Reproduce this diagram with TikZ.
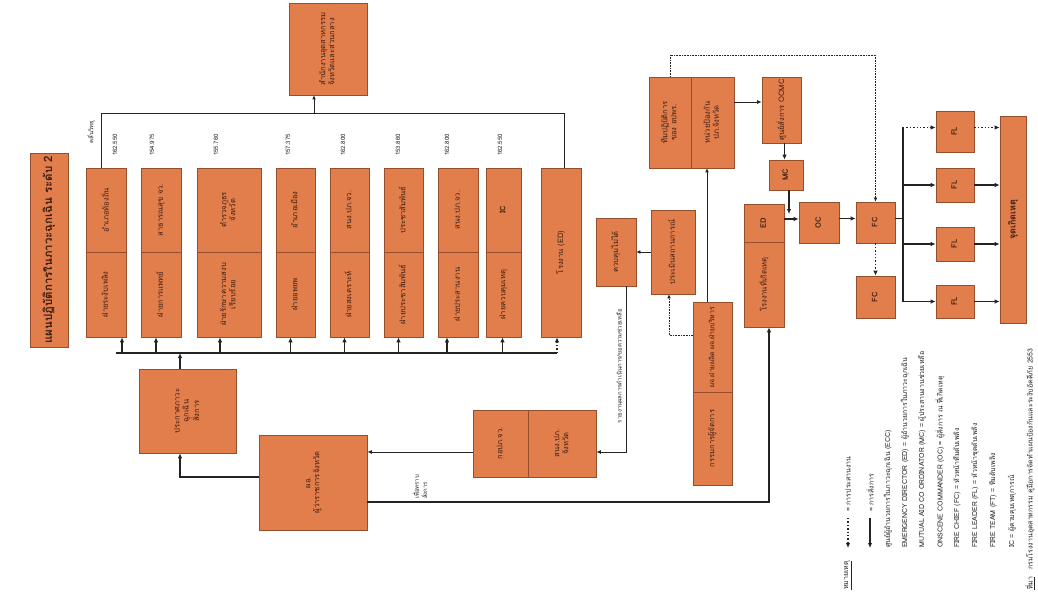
\documentclass[tikz,border=0pt]{standalone}
\usepackage{fontspec}
\setmainfont{Loma}[Script=Thai]
\usetikzlibrary{arrows.meta,calc}
\definecolor{boxor}{RGB}{226,126,76}
\definecolor{boxdr}{RGB}{150,78,45}
\definecolor{txtc}{RGB}{60,30,20}
\definecolor{linec}{RGB}{35,35,35}
\newcommand{\rtx}[1]{\rotatebox{90}{\begin{tabular}{@{}c@{}}#1\end{tabular}}}
\newcommand{\rtl}[1]{\rotatebox{90}{\begin{tabular}{@{}l@{}}#1\end{tabular}}}
\newcommand{\obx}[6]{\node[obox,minimum width={#4-#2},minimum height={#5-#3}] (#1) at ({(#2+#4)/2},{(#3+#5)/2}) {#6};}
\begin{document}
\begin{tikzpicture}[x=1pt,y=-1pt,
  obox/.style={draw=boxdr,fill=boxor,line width=0.6pt,inner sep=0pt,font=\fontsize{7.6}{9}\selectfont,text=txtc},
  arr/.style={draw=linec,line width=1.3pt,-{Latex[length=5pt,width=4.5pt]}},
  arrm/.style={draw=linec,line width=0.9pt,-{Latex[length=4.5pt,width=4pt]}},
  thinl/.style={draw=linec,line width=0.6pt},
  thinarr/.style={draw=linec,line width=0.6pt,-{Latex[length=4pt,width=3.5pt]}},
  dotarr/.style={draw=linec,line width=1.4pt,dotted,-{Latex[length=5pt,width=4.5pt]}},
  thindot/.style={draw=linec,line width=0.6pt,densely dotted,-{Latex[length=4pt,width=3.5pt]}},
  busl/.style={draw=linec,line width=1.3pt},
  lbl/.style={font=\fontsize{6}{7}\selectfont,text=black!85,inner sep=0pt},
  leg/.style={font=\fontsize{7}{8}\selectfont,text=black!85,inner sep=0pt,rotate=90,anchor=west}]
\useasboundingbox[fill=white] (0,0) rectangle (1038,596);

% title
\node[obox,minimum width=38,minimum height=194,font=\fontsize{11.5}{13}\selectfont\bfseries] (title) at (49,250) {\rotatebox{90}{แผนปฏิบัติการในภาวะฉุกเฉิน ระดับ 2}};

% top box
\obx{topbox}{289}{3}{367}{95}{\rtl{สำนักงานอุตสาหกรรม\\จังหวัดและส่วนกลาง}}

% row of agency boxes
\obx{b1t}{86}{168}{126}{252}{\rtx{อำเภอท้องถิ่น}}
\obx{b1b}{86}{252}{126}{337}{\rtx{ฝ่ายระงับเพลิง}}
\obx{b2t}{141}{168}{181}{252}{\rtx{สาธารณสุข จว.}}
\obx{b2b}{141}{252}{181}{337}{\rtx{ฝ่ายการแพทย์}}
\obx{b3t}{197}{168}{261}{252}{\rtx{ตำรวจภูธร\\จังหวัด}}
\obx{b3b}{197}{252}{261}{337}{\rtx{ฝ่ายรักษาความสงบ\\เรียบร้อย}}
\obx{b4t}{276}{168}{315}{252}{\rtx{อำเภอเมือง}}
\obx{b4b}{276}{252}{315}{337}{\rtx{ฝ่ายอพยพ}}
\obx{b5t}{330}{168}{369}{252}{\rtx{สนง.ปภ.จว.}}
\obx{b5b}{330}{252}{369}{337}{\rtx{ฝ่ายสงเคราะห์}}
\obx{b6t}{384}{168}{423}{252}{\rtx{ประชาสัมพันธ์}}
\obx{b6b}{384}{252}{423}{337}{\rtx{ฝ่ายประชาสัมพันธ์}}
\obx{b7t}{438}{168}{478}{252}{\rtx{สนง.ปภ.จว.}}
\obx{b7b}{438}{252}{478}{337}{\rtx{ฝ่ายประสานงาน}}
\obx{b8t}{486}{168}{521}{252}{\rtx{\bfseries IC}}
\obx{b8b}{486}{252}{521}{337}{\rtx{ฝ่ายควบคุมเหตุ}}
\obx{ed0}{541}{168}{581}{337}{\rtx{โรงงาน (ED)}}

% radio frequencies
\node[lbl] (lradio) at (91,132) {\rotatebox{90}{คลื่นวิทยุ}};
\node[lbl] (f1) at (115,145) {\rotatebox{90}{162.550}};
\node[lbl] (f2) at (152,145) {\rotatebox{90}{154.975}};
\node[lbl] (f3) at (216,145) {\rotatebox{90}{155.760}};
\node[lbl] (f4) at (288,145) {\rotatebox{90}{157.375}};
\node[lbl] (f5) at (343,145) {\rotatebox{90}{162.800}};
\node[lbl] (f6) at (398,145) {\rotatebox{90}{153.860}};
\node[lbl] (f7) at (447,145) {\rotatebox{90}{162.800}};
\node[lbl] (f8) at (500,145) {\rotatebox{90}{162.550}};

% lower-left boxes
\obx{ann}{139}{369}{236}{453}{\rtx{ประกาศภาวะ\\ฉุกเฉิน\\สั่งการ}}
\obx{gov}{259}{435}{367}{530}{\rtx{ผอ.\\ผู้ว่าราชการจังหวัด}}
\obx{korL}{473}{410}{528}{477}{\rtx{กอปภ.จว.}}
\obx{korR}{528}{410}{596}{477}{\rtx{สนง.ปภ.\\จังหวัด}}
\obx{ctrl}{596}{218}{636}{286}{\rtx{ควบคุมไม่ได้}}
\obx{assess}{651}{210}{695}{294}{\rtx{ประเมินสถานการณ์}}
\obx{mgrT}{693}{302}{732}{392}{\rtx{\fontsize{7}{8}\selectfont ผจ.ฝ่ายผลิต ผจ.ฝ่ายบริหาร}}
\obx{mgrB}{693}{392}{732}{485}{\rtx{กรรมการผู้จัดการ}}
\obx{cenL}{649}{77}{691}{168}{\rtx{ทีมปฏิบัติการ\\ของ อปพร.}}
\obx{cenR}{691}{77}{734}{168}{\rtx{หน่วยป้องกัน\\ปภ.จังหวัด}}
\obx{ocmc}{762}{77}{801}{143}{\rtx{ศูนย์สั่งการ OCMC}}
\obx{mc}{769}{160}{803}{190}{\rtx{\bfseries MC}}
\obx{edT}{744}{204}{784}{242}{\rtx{\bfseries ED}}
\obx{edB}{744}{242}{784}{327}{\rtx{โรงงานที่เกิดเหตุ}}
\obx{oc}{799}{202}{839}{243}{\rtx{\bfseries OC}}
\obx{fc}{856}{202}{895}{243}{\rtx{\bfseries FC}}
\obx{fc2}{856}{276}{895}{318}{\rtx{\bfseries FC}}
\obx{fl1}{936}{111}{974}{152}{\rtx{\bfseries FL}}
\obx{fl2}{936}{168}{974}{202}{\rtx{\bfseries FL}}
\obx{fl3}{936}{227}{974}{261}{\rtx{\bfseries FL}}
\obx{fl4}{936}{285}{974}{318}{\rtx{\bfseries FL}}
\node[obox,minimum width=26,minimum height=207,font=\fontsize{9}{10}\selectfont\bfseries] (scene) at (1013,219.5) {\rotatebox{90}{จุดเกิดเหตุ}};

% bus to agencies
\coordinate (busL) at (116,353);
\coordinate (topY) at (0,113);
\coordinate (topL) at (0,55);
\coordinate (brx) at (903,0);
\draw[busl] (busL) -- ([xshift=-4]ed0.south |- busL);
\draw[arr] ([xshift=16]b1b.south |- busL) -- ([xshift=16]b1b.south);
\draw[arr] ([xshift=-5]b2b.south |- busL) -- ([xshift=-5]b2b.south);
\draw[arr] ([xshift=-9]b3b.south |- busL) -- ([xshift=-9]b3b.south);
\draw[arr] ([xshift=-5]b4b.south |- busL) -- ([xshift=-5]b4b.south);
\draw[arr] ([xshift=-5]b5b.south |- busL) -- ([xshift=-5]b5b.south);
\draw[arr] ([xshift=-5]b6b.south |- busL) -- ([xshift=-5]b6b.south);
\draw[arr] ([xshift=-11]b7b.south |- busL) -- ([xshift=-11]b7b.south);
\draw[arr] ([xshift=-1]b8b.south |- busL) -- ([xshift=-1]b8b.south);
\draw[dotarr] ([xshift=-4]ed0.south |- busL) -- ([xshift=-4]ed0.south);
\draw[arr] ([xshift=-7.5]ann.north) -- ([xshift=-7.5]ann.north |- busL);

% top connection
\draw[thinl] ([xshift=-5]b1t.north) -- ([xshift=-5]b1t.north |- topY) -- ([xshift=3]ed0.north |- topY) -- ([xshift=3]ed0.north);
\draw[thinarr] ([xshift=-14]topbox.south |- topY) -- ([xshift=-14]topbox.south);

% lower flows
\draw[arr] ([yshift=5.5]gov.west) -| ([xshift=-7.5]ann.south);
\draw[arrm] ([yshift=-8.5]korL.west) -- ([yshift=-8.5]korL.west -| gov.east);
\draw[arrm] ([xshift=10]ctrl.south) |- ([yshift=-8.5]korR.east);
\node[lbl] (rep) at (619,366) {\rotatebox{90}{รายงานผลการดำเนินการ/ขอความช่วยเหลือ}};
\draw[thinarr] (assess.west) -- (ctrl.east);
\draw[thindot] ([yshift=12]mgrT.west) -| ([xshift=-4]assess.south);
\draw[thinarr] ([xshift=-5.5]mgrT.north) -- ([xshift=-5.5]mgrT.north |- cenR.south);
\draw[arrm] ([yshift=20.5]cenR.east) -- ([yshift=20.5]cenR.east -| ocmc.west);
\draw[arr] ([xshift=3]ocmc.south) -- ([xshift=3]ocmc.south |- mc.north);
\draw[arr,shorten >=5pt] ([xshift=3]mc.south) -- ([xshift=3,yshift=4]mc.south |- edT.east);
\draw[arr] ([yshift=4]edT.east) -- ([yshift=4]edT.east -| oc.west);
\draw[arr] ([yshift=4]oc.east) -- ([yshift=4]oc.east -| fc.west);
\draw[dotarr] (fc.south) -- (fc2.north);
\draw[thindot] (cenL.north) -- (cenL.north |- topL) -| (fc.north);
\draw[busl] ([yshift=4]fc.east) -- ([yshift=4]fc.east -| brx);
\draw[busl] ([yshift=4]brx |- fl1.west) -- (brx |- fl4.west);
\draw[dotarr] ([yshift=4]brx |- fl1.west) -- ([yshift=4]fl1.west);
\draw[arr] (brx |- fl2.west) -- (fl2.west);
\draw[arr] (brx |- fl3.west) -- (fl3.west);
\draw[arr] (brx |- fl4.west) -- (fl4.west);
\draw[dotarr] ([yshift=4]fl1.east) -- ([yshift=4]fl1.east -| scene.west);
\draw[arr] (fl2.east) -- (fl2.east -| scene.west);
\draw[arr] (fl3.east) -- (fl3.east -| scene.west);
\draw[arr] (fl4.east) -- (fl4.east -| scene.west);
\draw[arr] ([yshift=-19.5]gov.east) -| ([xshift=5]edB.south);
\node[lbl] (inform) at (421,487) {\rotatebox{90}{\begin{tabular}{@{}l@{}}เพื่อทราบ\\สั่งการ\end{tabular}}};

% legend
\coordinate (ld1) at (848,518);
\coordinate (ld2) at (848,548);
\coordinate (ls1) at (870,518);
\coordinate (ls2) at (870,548);
\node[leg] (lnote) at (848,590) {\underline{หมายเหตุ}};
\draw[dotarr] (ld1) -- (ld2);
\node[leg] (lco) at (848,512) {= การประสานงาน};
\draw[arr] (ls1) -- (ls2);
\node[leg] (lcmd) at (870,512) {= การสั่งการ};
\node[leg] (l1) at (888,548) {ศูนย์ผู้อำนวยการในภาวะฉุกเฉิน (ECC)};
\node[leg] (l2) at (905,548) {EMERGENCY DIRECTOR (ED) = ผู้อำนวยการในภาวะฉุกเฉิน};
\node[leg] (l3) at (922,548) {MUTUAL AID CO ORDINATOR (MC) = ผู้ประสานงานช่วยเหลือ};
\node[leg] (l4) at (940,548) {ONSCENE COMMANDER (OC) = ผู้สั่งการ ณ ที่เกิดเหตุ};
\node[leg] (l5) at (957,548) {FIRE CHIEF (FC) = หัวหน้าทีมดับเพลิง};
\node[leg] (l6) at (975,548) {FIRE LEADER (FL) = หัวหน้าชุดดับเพลิง};
\node[leg] (l7) at (993,548) {FIRE TEAM (FT) = ทีมดับเพลิง};
\node[leg] (l8) at (1012,548) {IC = ผู้ควบคุมเหตุการณ์};
\node[leg] (lsrc) at (1030,590) {\underline{ที่มา}\quad กรมโรงงานอุตสาหกรรม คู่มือการจัดทำแผนป้องกันและระงับอัคคีภัย 2553};
\end{tikzpicture}
\end{document}
